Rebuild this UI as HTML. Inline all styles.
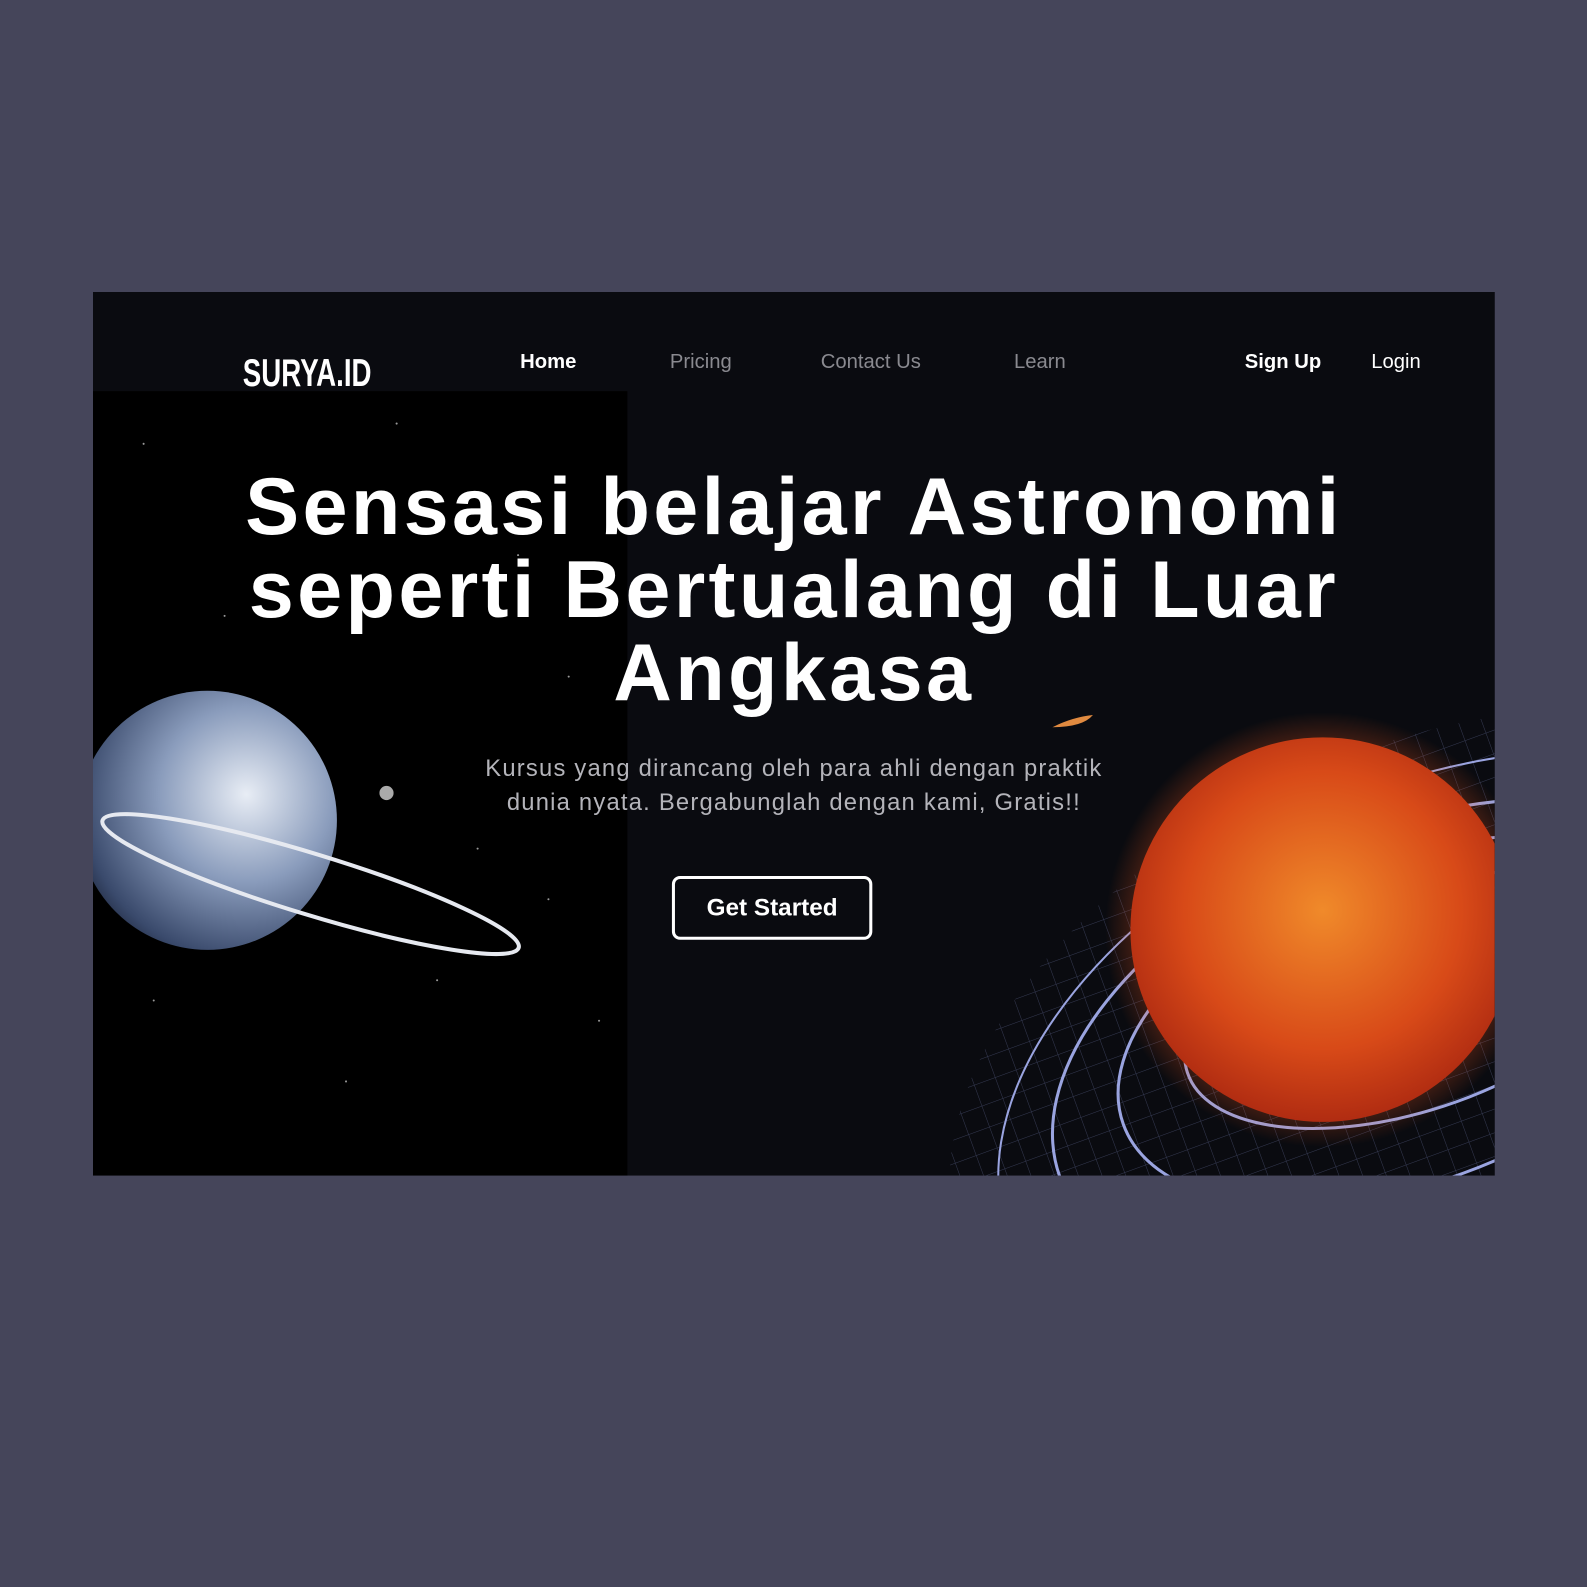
<!DOCTYPE html>
<html>
<head>
<meta charset="utf-8">
<style>
  html, body { margin: 0; padding: 0; }
  body { width: 1587px; height: 1587px; background: #45455a; position: relative; overflow: hidden; font-family: "Liberation Sans", sans-serif; }
  #frame { position: absolute; left: 93px; top: 292px; width: 1385px; height: 873px; background: #0a0b10; overflow: hidden; transform: scale(1.0121); transform-origin: 0 0; }
  #left-panel { position: absolute; left: 0; top: 98px; width: 528px; height: 775px; background: #000; }
  .abs { position: absolute; }
  .nav { position: absolute; top: 58px; font-size: 20px; color: #8a8a90; white-space: nowrap; }
  #headline { position: absolute; left: 0; top: 171px; width: 1385px; text-align: center; color: #fff; font-weight: bold; font-size: 80px; line-height: 82px; letter-spacing: 3.3px; }
  #sub { position: absolute; left: 0; top: 453px; width: 1385px; text-align: center; color: #b4b4ba; font-size: 23.5px; line-height: 34px; letter-spacing: 1.2px; }
  #cta { position: absolute; left: 572px; top: 577px; width: 192px; height: 57px; border: 3px solid #fff; border-radius: 8px; color: #fff; font-weight: bold; font-size: 24px; line-height: 57px; text-align: center; box-sizing: content-box; }
</style>
</head>
<body>
<div id="frame">
  <div id="left-panel"></div>
  <svg class="abs" style="left:0;top:0" width="1385" height="873">
    <defs>
      <radialGradient id="earth" cx="0.65" cy="0.4" r="0.75">
        <stop offset="0" stop-color="#e8edf5"/>
        <stop offset="0.45" stop-color="#8a9cbc"/>
        <stop offset="0.85" stop-color="#3a4a6c"/>
        <stop offset="1" stop-color="#1a2236"/>
      </radialGradient>
      <radialGradient id="sun" cx="0.5" cy="0.45" r="0.6">
        <stop offset="0" stop-color="#f08a2a"/>
        <stop offset="0.6" stop-color="#d84a18"/>
        <stop offset="1" stop-color="#a62410"/>
      </radialGradient>
      <radialGradient id="glow" cx="0.5" cy="0.5" r="0.5">
        <stop offset="0.7" stop-color="#ff5a1a" stop-opacity="0.5"/>
        <stop offset="1" stop-color="#ff5a1a" stop-opacity="0"/>
      </radialGradient>
      <pattern id="grid" width="22" height="22" patternUnits="userSpaceOnUse" patternTransform="rotate(-20)">
        <path d="M22 0 L0 0 0 22" fill="none" stroke="#3a3f5a" stroke-width="1"/>
      </pattern>
      <clipPath id="gridclip"><ellipse cx="1320" cy="760" rx="500" ry="310" transform="rotate(-24 1320 760)"/></clipPath>
    </defs>
    <g fill="#ffffff" opacity="0.6">
      <circle cx="50" cy="150" r="1"/><circle cx="160" cy="230" r="1"/><circle cx="300" cy="130" r="1"/>
      <circle cx="420" cy="260" r="1"/><circle cx="470" cy="380" r="1"/><circle cx="380" cy="550" r="1"/>
      <circle cx="450" cy="600" r="1"/><circle cx="60" cy="700" r="1"/><circle cx="250" cy="780" r="1"/>
      <circle cx="500" cy="720" r="1"/><circle cx="130" cy="320" r="1"/><circle cx="340" cy="680" r="1"/>
    </g>
    <g>
      <circle cx="113" cy="522" r="128" fill="url(#earth)"/>
      <ellipse cx="215" cy="585" rx="215" ry="30" transform="rotate(17 215 585)" fill="none" stroke="#e6e9f0" stroke-width="4"/>
      <circle cx="290" cy="495" r="7" fill="#aaa"/>
    </g>
    <rect x="730" y="350" width="700" height="560" fill="url(#grid)" clip-path="url(#gridclip)" opacity="0.9"/>
    <g fill="none" stroke="#9aa4e0" stroke-width="3">
      <ellipse cx="1300" cy="700" rx="230" ry="110" transform="rotate(-18 1300 700)"/>
      <ellipse cx="1300" cy="720" rx="300" ry="160" transform="rotate(-20 1300 720)"/>
      <ellipse cx="1300" cy="740" rx="370" ry="210" transform="rotate(-22 1300 740)"/>
      <ellipse cx="1320" cy="760" rx="450" ry="270" transform="rotate(-24 1320 760)" stroke-width="2"/>
    </g>
    <g>
      <circle cx="1215" cy="630" r="215" fill="url(#glow)"/>
      <circle cx="1215" cy="630" r="190" fill="url(#sun)"/>
    </g>
    <path d="M948 430 q20 -10 40 -12 q-10 12 -40 12z" fill="#e08a40"/>
  </svg>

  <div class="abs" style="left:148px;top:60px;color:#fff;font-weight:bold;font-size:38px;transform:scaleX(0.72);transform-origin:left top">SURYA.ID</div>
  <div class="nav" style="left:422px;color:#fff;font-weight:bold">Home</div>
  <div class="nav" style="left:570px">Pricing</div>
  <div class="nav" style="left:719px">Contact Us</div>
  <div class="nav" style="left:910px">Learn</div>
  <div class="nav" style="left:1138px;color:#fff;font-weight:bold">Sign Up</div>
  <div class="nav" style="left:1263px;color:#fff">Login</div>

  <div id="headline">Sensasi belajar Astronomi<br>seperti Bertualang di Luar<br>Angkasa</div>
  <div id="sub">Kursus yang dirancang oleh para ahli dengan praktik<br>dunia nyata. Bergabunglah dengan kami, Gratis!!</div>
  <div id="cta">Get Started</div>
</div>
</body>
</html>
